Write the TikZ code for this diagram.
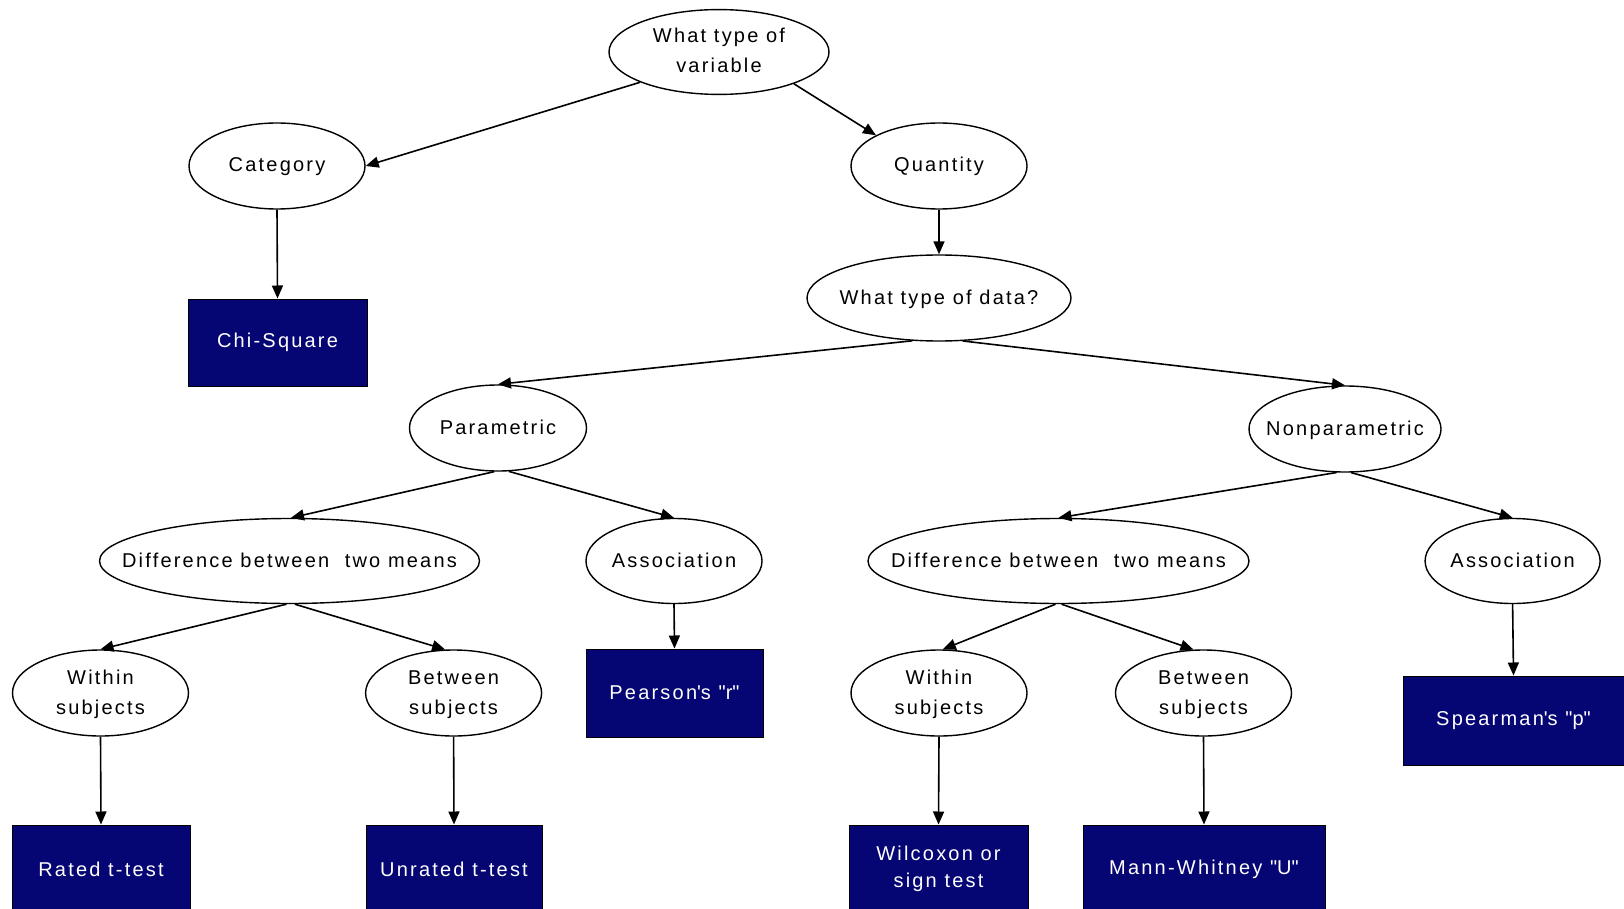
\documentclass[tikz,border=0pt]{standalone}
\usepackage{fontspec}
\setmainfont{Liberation Sans}[LetterSpace=11]
\usetikzlibrary{shapes.geometric,arrows.meta}
\definecolor{boxblue}{RGB}{5,5,115}
\newcommand{\zw}[1]{\makebox[0pt]{\begin{tabular}{@{}c@{}}#1\end{tabular}}}
\newcommand{\dq}{\textquotedbl}
\begin{document}
\begin{tikzpicture}[x=1pt,y=-1pt,
  font=\fontsize{20}{30}\selectfont,
  qnode/.style={ellipse, draw, line width=1.4pt, inner sep=0pt, minimum height=86pt, fill=white},
  tbox/.style={rectangle, draw=black, line width=1pt, fill=boxblue, text=white, inner sep=0pt, align=center},
  conn/.style={line width=1.6pt, -{Triangle[length=13pt,width=11pt]}}]
\useasboundingbox (0,0) rectangle (1624,909);
\clip (0,0) rectangle (1624,909);
% questions
\node[qnode, minimum width=220pt, minimum height=83pt] (var) at (719,52) {\zw{What type of\\variable}};
\node[qnode, minimum width=176pt] (cat) at (277,166) {\zw{Category}};
\node[qnode, minimum width=176pt] (qty) at (939,166) {\zw{Quantity}};
\node[qnode, minimum width=264pt] (data) at (939,298) {\zw{What type of data?}};
\node[qnode, minimum width=177pt] (par) at (498,428) {\zw{Parametric}};
\node[qnode, minimum width=192pt] (nonpar) at (1345,429) {\zw{Nonparametric}};
\node[qnode, minimum width=380pt, minimum height=85pt] (diffL) at (289.5,561) {\zw{Difference between~~two means}};
\node[qnode, minimum width=176pt, minimum height=85pt] (assocL) at (674,561) {\zw{Association}};
\node[qnode, minimum width=381pt, minimum height=85pt] (diffR) at (1058.5,561) {\zw{Difference between~~two means}};
\node[qnode, minimum width=175pt, minimum height=85pt] (assocR) at (1512.6,561) {\zw{Association}};
\node[qnode, minimum width=176pt] (withinL) at (100.5,693) {\zw{Within\\subjects}};
\node[qnode, minimum width=176pt] (betweenL) at (453.6,693) {\zw{Between\\subjects}};
\node[qnode, minimum width=176pt] (withinR) at (939,693) {\zw{Within\\subjects}};
\node[qnode, minimum width=176pt] (betweenR) at (1203.5,693) {\zw{Between\\subjects}};
% results
\node[tbox, minimum width=179pt, minimum height=87pt] (chi) at (277.5,342.5) {Chi-Square};
\node[tbox, minimum width=177pt, minimum height=88pt] (pearson) at (674.5,693) {Pearson\textquotesingle s \dq r\dq};
\node[tbox, minimum width=221pt, minimum height=89pt] (spearman) at (1513.5,720.5) {Spearman\textquotesingle s \dq p\dq};
\node[tbox, minimum width=178pt, minimum height=88pt] (rated) at (101,869) {Rated t-test};
\node[tbox, minimum width=176pt, minimum height=88pt] (unrated) at (454,869) {Unrated t-test};
\node[tbox, minimum width=179pt, minimum height=88pt, font=\fontsize{20}{27}\selectfont] (wilcoxon) at (938.5,869) {Wilcoxon or\\sign test};
\node[tbox, minimum width=242pt, minimum height=88pt] (mann) at (1204,869) {Mann-Whitney \dq U\dq};
% connectors
\draw[conn] (var.201) -- (cat.east);
\draw[conn] (var.337) -- (qty.154);
\draw[conn] (cat.south) -- (chi.north);
\draw[conn] (qty.south) -- (data.north);
\draw[conn] (data.238) -- (par.north);
\draw[conn] (data.299) -- (nonpar.north);
\draw[conn] (par.265) -- (diffL.88);
\draw[conn] (par.284) -- (assocL.north);
\draw[conn] (nonpar.259) -- (diffR.north);
\draw[conn] (nonpar.278) -- (assocR.north);
\draw[conn] (diffL.266) -- (withinL.north);
\draw[conn] (diffL.277) -- (betweenL.101);
\draw[conn] (assocL.south) -- (pearson.north);
\draw[conn] (diffR.266) -- (withinR.85);
\draw[conn] (diffR.274) -- (betweenR.103);
\draw[conn] (assocR.south) -- (spearman.north);
\draw[conn] (withinL.south) -- (rated.north);
\draw[conn] (betweenL.south) -- (unrated.north);
\draw[conn] (withinR.south) -- (wilcoxon.north);
\draw[conn] (betweenR.south) -- (mann.north);
\end{tikzpicture}
\end{document}
